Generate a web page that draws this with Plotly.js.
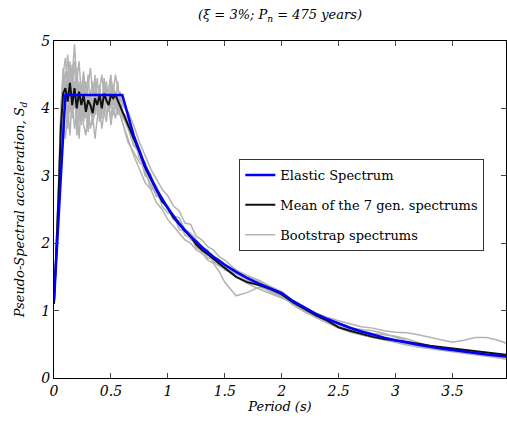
<!DOCTYPE html>
<html>
<head>
<meta charset="utf-8">
<script src="https://cdn.plot.ly/plotly-3.0.1.min.js"></script>
<style>html,body{margin:0;padding:0;background:#fff;}</style>
</head>
<body>
<div id="chart" style="width:507px;height:425px;"></div>
<script>
// Elastic spectrum
const elasticT = [0, 0.1, 0.6, 0.7, 0.8, 0.9, 1.0, 1.1, 1.2, 1.3, 1.4, 1.5, 1.6, 1.7, 1.8, 1.9, 2.0, 2.1, 2.2, 2.3, 2.4, 2.5, 2.6, 2.7, 2.8, 2.9, 3.0, 3.2, 3.4, 3.6, 3.8, 4.0];
const elasticS = [1.15, 4.2, 4.2, 3.6, 3.15, 2.8, 2.52, 2.29, 2.1, 1.94, 1.8, 1.68, 1.575, 1.48, 1.4, 1.33, 1.26, 1.14, 1.04, 0.953, 0.875, 0.806, 0.746, 0.691, 0.643, 0.599, 0.56, 0.492, 0.436, 0.389, 0.349, 0.315];

// Periods shared by the generated spectra
const periods = [0, 0.02, 0.04, 0.06, 0.08, 0.10, 0.12, 0.14, 0.16, 0.18, 0.20, 0.22, 0.24, 0.26, 0.28, 0.30, 0.32, 0.34, 0.36, 0.38, 0.40, 0.42, 0.44, 0.46, 0.48, 0.50, 0.52, 0.54, 0.56, 0.58, 0.60,
  0.65, 0.70, 0.75, 0.80, 0.85, 0.90, 0.95, 1.00, 1.05, 1.10, 1.15, 1.20, 1.25, 1.30, 1.35, 1.40, 1.45, 1.50,
  1.6, 1.7, 1.8, 1.9, 2.0, 2.1, 2.2, 2.3, 2.4, 2.5, 2.6, 2.7, 2.8, 2.9, 3.0, 3.1, 3.2, 3.3, 3.4, 3.5, 3.6, 3.7, 3.8, 3.9, 4.0];

const meanS = [1.1, 1.8, 2.7, 3.7, 4.22, 4.3, 4.1, 4.38, 4.05, 4.3, 4.0, 4.25, 4.05, 4.2, 3.95, 4.12, 4.05, 3.93, 4.15, 4.05, 4.2, 4.0, 4.22, 4.12, 4.05, 4.2, 4.15, 4.2, 4.12, 4.05, 3.95,
  3.75, 3.55, 3.35, 3.12, 2.95, 2.78, 2.62, 2.52, 2.38, 2.28, 2.18, 2.1, 1.98, 1.9, 1.84, 1.77, 1.7, 1.63,
  1.5, 1.42, 1.38, 1.32, 1.24, 1.12, 1.02, 0.93, 0.85, 0.75, 0.7, 0.65, 0.61, 0.58, 0.56, 0.53, 0.51, 0.48, 0.46, 0.44, 0.42, 0.4, 0.38, 0.36, 0.34];

const boot1 = [1.12, 1.85, 2.7, 3.7, 4.3, 4.55, 4.2, 4.7, 4.1, 4.4, 3.9, 4.3, 4.0, 4.45, 3.85, 4.2, 4.05, 3.8, 4.25, 4.0, 4.3, 3.95, 4.15, 4.4, 4.0, 4.2, 4.35, 4.1, 4.2, 4.0, 3.95,
  3.85, 3.45, 3.35, 3.0, 2.95, 2.7, 2.65, 2.5, 2.4, 2.25, 2.2, 2.05, 2.0, 1.85, 1.9, 1.72, 1.72, 1.6,
  1.55, 1.45, 1.38, 1.28, 1.2, 1.1, 1.0, 0.92, 0.85, 0.78, 0.73, 0.68, 0.62, 0.58, 0.55, 0.52, 0.48, 0.45, 0.43, 0.41, 0.39, 0.37, 0.36, 0.34, 0.33];
const boot2 = [1.1, 1.9, 2.9, 4.0, 4.5, 4.75, 4.3, 4.6, 4.45, 4.95, 4.4, 4.7, 4.2, 4.5, 4.1, 4.35, 4.6, 4.2, 4.4, 4.05, 4.3, 4.5, 4.15, 4.35, 4.0, 4.45, 4.25, 4.5, 4.3, 4.15, 4.05,
  3.95, 3.75, 3.5, 3.3, 3.1, 2.95, 2.8, 2.7, 2.55, 2.48, 2.3, 2.28, 2.1, 2.05, 1.95, 1.9, 1.8, 1.75,
  1.6, 1.52, 1.44, 1.35, 1.25, 1.12, 1.03, 0.96, 0.9, 0.85, 0.8, 0.76, 0.74, 0.7, 0.68, 0.67, 0.64, 0.6, 0.56, 0.53, 0.56, 0.6, 0.6, 0.56, 0.5];
const boot3 = [1.1, 1.7, 2.5, 3.3, 3.8, 3.55, 4.0, 3.6, 4.2, 3.7, 3.95, 3.55, 4.1, 3.75, 3.6, 4.0, 3.7, 3.9, 3.55, 3.85, 4.05, 3.7, 3.95, 3.8, 4.1, 3.75, 4.0, 3.85, 4.1, 3.9, 3.8,
  3.55, 3.3, 3.1, 2.9, 2.8, 2.6, 2.5, 2.35, 2.25, 2.15, 2.05, 2.0, 1.9, 1.85, 1.75, 1.7, 1.58, 1.42,
  1.22, 1.27, 1.35, 1.3, 1.22, 1.08, 0.98, 0.9, 0.82, 0.74, 0.68, 0.64, 0.6, 0.56, 0.52, 0.49, 0.46, 0.43, 0.41, 0.39, 0.37, 0.35, 0.33, 0.3, 0.27];
const boot4 = [1.15, 1.8, 2.6, 3.6, 4.1, 4.4, 3.9, 4.25, 4.5, 4.0, 4.6, 4.1, 4.35, 3.9, 4.2, 4.5, 3.95, 4.3, 4.1, 4.45, 4.0, 4.2, 3.9, 4.3, 4.15, 4.0, 4.3, 4.2, 3.95, 4.25, 4.1,
  3.9, 3.6, 3.3, 3.2, 2.95, 2.85, 2.65, 2.55, 2.4, 2.38, 2.2, 2.15, 2.05, 1.95, 1.88, 1.8, 1.76, 1.68,
  1.58, 1.52, 1.45, 1.36, 1.28, 1.15, 1.05, 0.96, 0.88, 0.8, 0.74, 0.72, 0.7, 0.66, 0.6, 0.55, 0.52, 0.48, 0.45, 0.42, 0.4, 0.38, 0.36, 0.34, 0.32];
const boot5 = [1.1, 1.75, 2.8, 3.9, 4.6, 4.2, 4.8, 4.3, 4.65, 4.1, 4.4, 3.8, 4.25, 4.55, 4.0, 3.75, 4.2, 4.4, 3.9, 4.15, 4.35, 3.85, 4.4, 4.1, 4.3, 4.5, 3.9, 4.1, 4.4, 4.0, 3.9,
  3.7, 3.45, 3.4, 3.05, 2.88, 2.7, 2.68, 2.5, 2.35, 2.3, 2.2, 2.12, 1.95, 1.88, 1.85, 1.72, 1.66, 1.62,
  1.5, 1.4, 1.32, 1.25, 1.18, 1.12, 1.0, 0.9, 0.82, 0.75, 0.7, 0.64, 0.6, 0.57, 0.55, 0.54, 0.5, 0.46, 0.43, 0.4, 0.38, 0.36, 0.35, 0.33, 0.3];
const boot6 = [1.12, 1.8, 2.5, 3.5, 3.9, 4.3, 3.7, 4.1, 3.85, 4.4, 3.6, 4.0, 4.3, 3.8, 4.1, 3.65, 4.05, 3.75, 4.0, 4.2, 3.8, 4.1, 4.25, 3.9, 4.05, 3.85, 4.15, 4.0, 3.9, 4.05, 3.8,
  3.5, 3.35, 3.2, 3.12, 2.8, 2.82, 2.55, 2.45, 2.42, 2.2, 2.18, 2.1, 1.93, 1.9, 1.86, 1.78, 1.74, 1.65,
  1.55, 1.45, 1.38, 1.32, 1.26, 1.12, 1.04, 0.95, 0.85, 0.78, 0.72, 0.7, 0.66, 0.64, 0.62, 0.58, 0.52, 0.47, 0.44, 0.41, 0.39, 0.37, 0.35, 0.33, 0.31];
const boot7 = [1.1, 1.85, 2.75, 3.8, 4.4, 4.0, 4.55, 3.95, 4.3, 4.7, 4.0, 4.4, 3.75, 4.2, 4.4, 3.95, 4.25, 4.0, 4.5, 3.9, 4.2, 4.0, 4.45, 4.1, 3.95, 4.35, 4.05, 4.25, 4.0, 4.2, 3.95,
  3.8, 3.6, 3.25, 3.15, 3.02, 2.72, 2.62, 2.55, 2.38, 2.32, 2.12, 2.08, 2.02, 1.9, 1.78, 1.77, 1.68, 1.65,
  1.55, 1.48, 1.4, 1.3, 1.2, 1.1, 1.0, 0.92, 0.86, 0.78, 0.72, 0.68, 0.62, 0.58, 0.55, 0.5, 0.47, 0.44, 0.42, 0.4, 0.38, 0.36, 0.35, 0.33, 0.3];

const legendNames = ['Elastic Spectrum', 'Mean of the 7 gen. spectrums', 'Bootstrap spectrums'];
const xTickVals = [0, 0.5, 1, 1.5, 2, 2.5, 3, 3.5, 4];
const xTickText = ['0', '0.5', '1', '1.5', '2', '2.5', '3', '3.5', '4'];
const yTickVals = [0, 1, 2, 3, 4, 5];

const FONT = 'DejaVu Serif';
const boots = [boot1, boot2, boot3, boot4, boot5, boot6, boot7];
const traces = [];
boots.forEach((b, i) => {
  traces.push({
    x: periods, y: b, type: 'scatter', mode: 'lines',
    line: {color: '#b3b3b3', width: 1.5},
    name: legendNames[2], showlegend: i === 0, legendgroup: 'g' + i, legendrank: 3
  });
});
traces.push({x: periods, y: meanS, type: 'scatter', mode: 'lines',
  line: {color: '#111111', width: 2}, name: legendNames[1], legendgroup: 'mean', legendrank: 2});
traces.push({x: elasticT, y: elasticS, type: 'scatter', mode: 'lines',
  line: {color: '#0000ff', width: 2.5}, name: legendNames[0], legendgroup: 'el', legendrank: 1});

const layout = {
  width: 507, height: 425,
  margin: {l: 54, r: 1, t: 41, b: 47},
  paper_bgcolor: '#fff', plot_bgcolor: '#fff',
  font: {family: FONT, color: '#000'},
  title: {text: '(ξ = 3%; P<sub>n</sub> = 475 years)', x: 0.5, xref: 'paper', y: 0.965, yanchor: 'middle',
    font: {family: FONT, size: 13, style: 'italic', color: '#000'}},
  xaxis: {range: [0, 3.97], tickvals: xTickVals, ticktext: xTickText, ticks: 'inside', ticklen: 5,
    showline: true, mirror: 'ticks', linecolor: '#000', linewidth: 1, showgrid: false, zeroline: false,
    tickfont: {family: FONT, size: 14, style: 'italic', color: '#000'},
    title: {text: 'Period (s)', standoff: 2, font: {family: FONT, size: 13, style: 'italic', color: '#000'}}},
  yaxis: {range: [0, 5], tickvals: yTickVals, ticks: 'inside', ticklen: 5,
    showline: true, mirror: 'ticks', linecolor: '#000', linewidth: 1, showgrid: false, zeroline: false,
    tickfont: {family: FONT, size: 14, style: 'italic', color: '#000'},
    title: {text: 'Pseudo-Spectral acceleration, S<sub>d</sub>', standoff: 12, font: {family: FONT, size: 13, style: 'italic', color: '#000'}}},
  legend: {x: 0.41, y: 0.65, xanchor: 'left', yanchor: 'top', bgcolor: '#fff', bordercolor: '#333', borderwidth: 1,
    font: {family: FONT, size: 13, color: '#000'}, traceorder: 'grouped', tracegroupgap: 10},
  showlegend: true
};
Plotly.newPlot('chart', traces, layout, {displayModeBar: false, staticPlot: true});
</script>
</body>
</html>
